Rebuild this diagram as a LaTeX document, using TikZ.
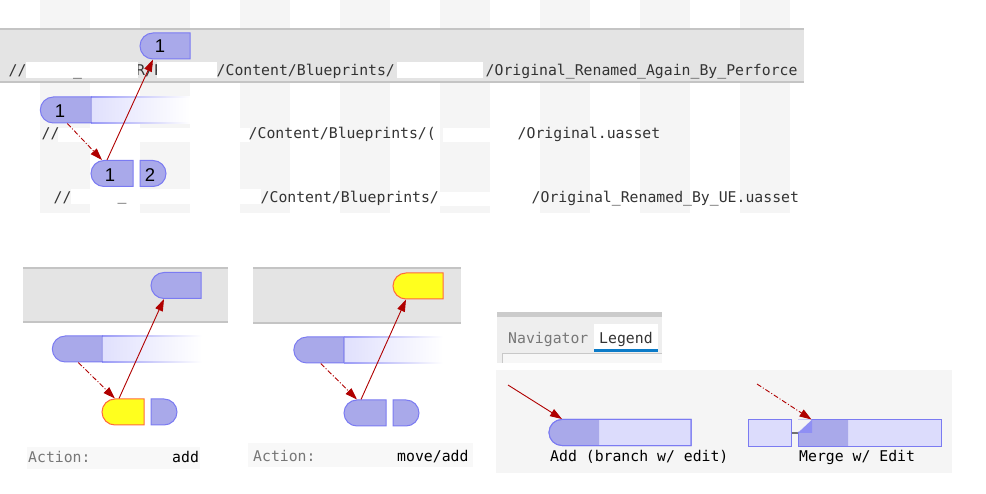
\documentclass[tikz,border=0pt]{standalone}
\usepackage{fontspec}
\usetikzlibrary{arrows.meta,shapes.misc}
\newfontfamily\monof{DejaVu Sans Mono}
\newfontfamily\numf{Liberation Sans}
\definecolor{nodeF}{HTML}{A9A9EA}
\definecolor{nodeB}{HTML}{7B7BF2}
\definecolor{lightF}{HTML}{DCDCFC}
\definecolor{gradL}{HTML}{E0E0FD}
\definecolor{gradB}{HTML}{9A9AF6}
\definecolor{yel}{HTML}{FFFF1E}
\definecolor{yelB}{HTML}{FF6A3C}
\definecolor{barF}{HTML}{E4E4E4}
\definecolor{barB}{HTML}{C4C4C4}
\definecolor{stripe}{HTML}{F5F5F5}
\definecolor{arrowR}{HTML}{B00000}
\definecolor{txt}{HTML}{333333}
\definecolor{gtxt}{HTML}{777777}
\definecolor{legbg}{HTML}{F5F5F5}
\definecolor{actbg}{HTML}{F8F8F8}
\definecolor{tabbg}{HTML}{EEEEEE}
\definecolor{tabtop}{HTML}{CBCBCB}
\definecolor{tabblue}{HTML}{0B7BC8}
\definecolor{tabline}{HTML}{C8C8C8}
\definecolor{joinG}{HTML}{707070}
\begin{document}
\begin{tikzpicture}[x=1pt,y=-1pt,
  blueL/.style={rounded rectangle, rounded rectangle right arc=none, draw=nodeB, fill=nodeF, line width=1pt, inner sep=0pt, minimum height=26pt, minimum width=#1},
  blueR/.style={rounded rectangle, rounded rectangle left arc=none, draw=nodeB, fill=nodeF, line width=1pt, inner sep=0pt, minimum height=26pt, minimum width=#1},
  yelL/.style={blueL=#1, fill=yel, draw=yelB},
  sqbox/.style={rectangle, draw=nodeB, fill=lightF, line width=1pt, inner sep=0pt, minimum height=26pt, minimum width=#1},
  holder/.style={rectangle, inner sep=0pt, minimum height=26pt, minimum width=#1},
  arr/.style={draw=arrowR, line width=0.9pt, -{Triangle[length=12pt,width=8pt]}},
  dd/.style={arr, dash pattern=on 5pt off 2pt on 1pt off 2pt},
  mono/.style={font=\monof\fontsize{14.8}{16}\selectfont, text=txt, anchor=base west, inner sep=0pt},
  gmono/.style={mono, text=gtxt},
  bmono/.style={mono, text=black},
  num/.style={font=\numf\fontsize{18.5}{19}\selectfont, text=black, inner sep=0pt}
]
\useasboundingbox (0,0) rectangle (986,494);
\fill[white] (0,0) rectangle (986,494);
% stripes
\foreach \i in {0,...,7} \fill[stripe] (40+\i*100,0) rectangle (90+\i*100,213);
% top bar
\fill[barF] (0,28) rectangle (804,83);
\draw[barB, line width=2pt] (0,29) -- (804,29);
\draw[barB, line width=2pt] (0,82) -- (804,82);
% text fragments under redaction
\node[mono] (f1) at (136,76) {R/P};
% redaction boxes
\fill[white] (26,62) rectangle (138,78);
\fill[white] (157,62) rectangle (217,78);
\fill[white] (397,62) rectangle (483,78);
\fill[white] (58,128) rectangle (250,142);
\fill[white] (443,128) rectangle (490,142);
\fill[white] (71,189) rectangle (261,204);
\fill[white] (440,192) rectangle (490,206);
% path texts
\node[mono] (p1a) at (8.5,76) {//};
\node[mono] (p1u) at (73,76) {\_};
\node[mono] (p1b) at (216.5,76) {/Content/Blueprints/};
\node[mono] (p1c) at (485.5,76) {/Original\_Renamed\_Again\_By\_Perforce};
\node[mono] (p2a) at (41.5,139) {//};
\node[mono] (p2b) at (248.5,139) {/Content/Blueprints/(};
\node[mono] (p2c) at (517.5,139) {/Original.uasset};
\node[mono] (p3a) at (53.5,203) {//};
\node[mono] (p3u) at (117.5,201) {\_};
\node[mono] (p3b) at (260.5,203) {/Content/Blueprints/};
\node[mono] (p3c) at (531.5,203) {/Original\_Renamed\_By\_UE.uasset};
% top nodes
\node[blueL=50pt] (n1) at (165,46) {};
\node[num] (t1) at (160,46.5) {1};
\node[holder=150pt] (g1) at (115,110) {};
\shade[left color=gradL, right color=white] (91,97) rectangle (190,123);
\shade[left color=gradB, right color=white] (91,96.5) rectangle (190,97.6);
\shade[left color=gradB, right color=white] (91,122.4) rectangle (190,123.5);
\node[blueL=51pt, anchor=west] (g1d) at (g1.west) {};
\draw[nodeF, line width=1.2pt] ([yshift=12.4pt]g1d.east) -- ([yshift=-12.4pt]g1d.east);
\node[num] (t2) at (60,111) {1};
\node[blueL=42pt] (n2a) at (112,173.5) {};
\node[blueR=26pt] (n2b) at (153,173.5) {};
\node[num] (t3) at (110,175) {1};
\node[num] (t4) at (150,175) {2};
\draw[dd] ([xshift=1.5pt]g1d.south) -- ([xshift=-10pt]n2a.north);
\draw[arr] ([xshift=-5pt]n2a.north) -- ([xshift=-12pt]n1.south);
% panel A
\fill[barF] (23,268) rectangle (228,322);
\draw[barB, line width=2pt] (23,268) -- (228,268);
\draw[barB, line width=2pt] (23,322) -- (228,322);
\node[blueL=50pt] (a1) at (176,285.5) {};
\node[holder=150pt] (a2) at (127,349) {};
\shade[left color=gradL, right color=white] (102,336) rectangle (202,362);
\shade[left color=gradB, right color=white] (102,335.5) rectangle (202,336.6);
\shade[left color=gradB, right color=white] (102,361.4) rectangle (202,362.5);
\node[blueL=50pt, anchor=west] (a2d) at (a2.west) {};
\draw[nodeF, line width=1.2pt] ([yshift=12.4pt]a2d.east) -- ([yshift=-12.4pt]a2d.east);
\node[yelL=42pt] (a3) at (123,412) {};
\node[blueR=26pt] (a4) at (164,412) {};
\draw[dd] ([xshift=1pt]a2d.south) -- ([xshift=-8pt]a3.north);
\draw[arr] ([xshift=-4pt]a3.north) -- ([xshift=-12pt]a1.south);
\fill[actbg] (27,447) rectangle (200,469);
\node[gmono] (a5) at (28,462) {Action:};
\node[bmono] (a6) at (172,462) {add};
% panel B
\fill[barF] (253,268) rectangle (461,323);
\draw[barB, line width=2pt] (253,268) -- (461,268);
\draw[barB, line width=2pt] (253,323) -- (461,323);
\node[yelL=50pt] (b1) at (418,286) {};
\node[holder=150pt] (b2) at (368.5,350) {};
\shade[left color=gradL, right color=white] (344,337) rectangle (443,363);
\shade[left color=gradB, right color=white] (344,336.5) rectangle (443,337.6);
\shade[left color=gradB, right color=white] (344,362.4) rectangle (443,363.5);
\node[blueL=50pt, anchor=west] (b2d) at (b2.west) {};
\draw[nodeF, line width=1.2pt] ([yshift=12.4pt]b2d.east) -- ([yshift=-12.4pt]b2d.east);
\node[blueL=42pt] (b3) at (365,413) {};
\node[blueR=26pt] (b4) at (406,413) {};
\draw[dd] ([xshift=2pt]b2d.south) -- ([xshift=-8pt]b3.north);
\draw[arr] ([xshift=-4pt]b3.north) -- ([xshift=-12pt]b1.south);
\fill[actbg] (248,443) rectangle (473,467);
\node[gmono] (b5) at (253,461) {Action:};
\node[bmono] (b6) at (397,461) {move/add};
% legend tabs
\fill[tabbg] (497,317) rectangle (662,363);
\fill[tabtop] (497,312) rectangle (662,317.5);
\fill[white] (594,324) rectangle (658,349);
\fill[tabblue] (594,349) rectangle (658,352);
\node[gmono] (nav) at (508,344) {Navigator};
\node[mono] (leg) at (599,344) {Legend};
\fill[white!97!black] (502.5,353.5) rectangle (662,363);
\draw[tabline, line width=1pt] (502.5,363) -- (502.5,353.5) -- (662,353.5);
% legend box
\fill[legbg] (496,370) rectangle (952,473);
\node[blueL=142pt, fill=lightF] (l1) at (620,432.5) {};
\node[blueL=50pt, draw=none, anchor=west] (l1d) at (l1.west) {};
\node[blueL=142pt, fill=none] (l1o) at (620,432.5) {};
\coordinate (l1s) at (508,385);
\draw[arr] (l1s) -- ([xshift=-12pt]l1d.north);
\node[bmono] (l1t) at (550,461) {Add (branch w/ edit)};
\node[sqbox=43pt] (l2a) at (769.5,433) {};
\node[sqbox=143pt] (l2) at (869.5,433) {};
\draw[joinG, line width=2pt] (l2a.east) -- (l2.west);
\fill[nodeF] (798,433) -- (812,420) -- (848,420) -- (848,446) -- (798,446) -- cycle;
\fill[nodeB!85!white] (798,433) -- (812,420) -- (812,433) -- cycle;
\node[sqbox=143pt, fill=none] (l2o) at (869.5,433) {};
\fill[legbg] (797.5,432.5) -- (797.5,419.5) -- (811.5,419.5) -- cycle;
\coordinate (l2s) at (757,384);
\draw[dd] (l2s) -- ([xshift=14pt]l2.north west);
\node[bmono] (l2t) at (799,461) {Merge w/ Edit};
\end{tikzpicture}
\end{document}
